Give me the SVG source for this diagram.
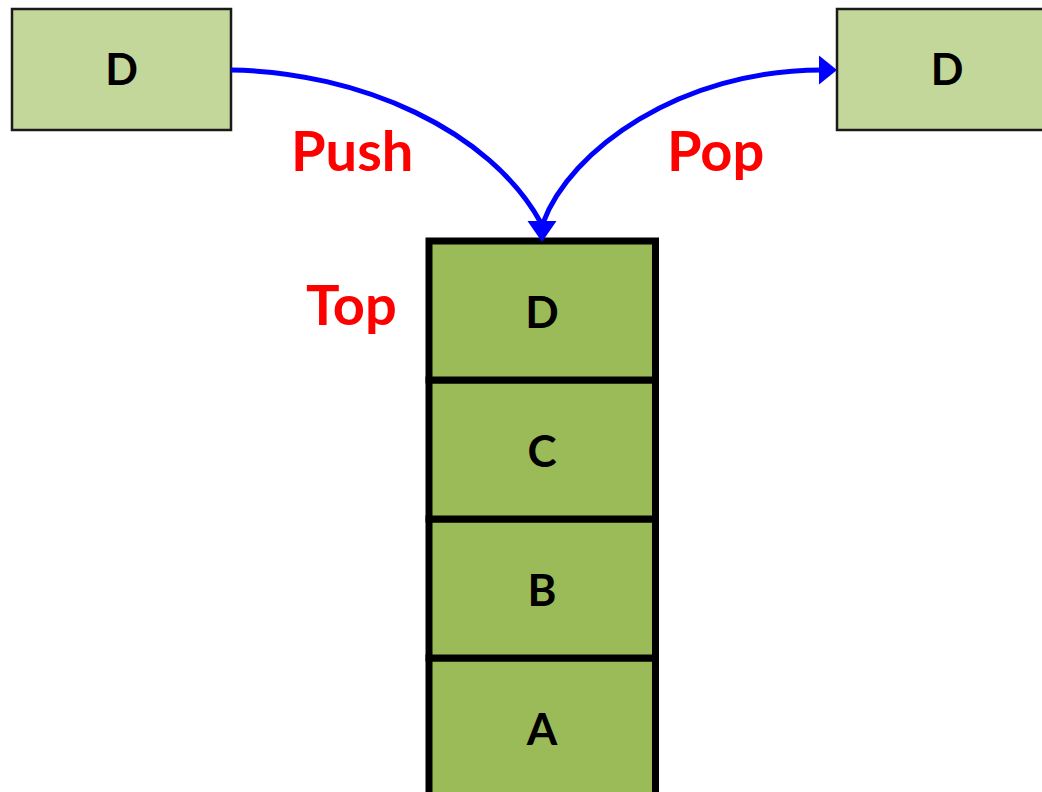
<svg xmlns="http://www.w3.org/2000/svg" width="1042" height="792" viewBox="0 0 1042 792">
  <style>
    .box { fill: #C4D79B; stroke: #1a1a1a; stroke-width: 2.5; }
    .cell { fill: #9BBB59; stroke: #000; stroke-width: 7; }
    .lbl { font-family: Lato, "Liberation Sans", sans-serif; font-weight: bold; fill: #000; text-anchor: middle; }
    .red { font-family: Lato, "Liberation Sans", sans-serif; font-weight: bold; fill: #FF0000; font-size: 56px; }
    .wire { fill: none; stroke: #0000FF; stroke-width: 5; }
    .head { fill: #0000FF; }
  </style>
  <rect width="1042" height="792" fill="#fff"/>

  <g id="push-item">
    <rect class="box" x="12" y="9" width="219" height="121"/>
    <text class="lbl" x="121.5" y="85" font-size="43">D</text>
  </g>
  <g id="pop-item">
    <rect class="box" x="837" y="9" width="230" height="121"/>
    <text class="lbl" x="947" y="85" font-size="43">D</text>
  </g>

  <g id="stack">
    <g id="cell-a">
      <rect class="cell" x="429" y="658" width="226.5" height="150"/>
      <text class="lbl" x="542" y="745" font-size="44">A</text>
    </g>
    <g id="cell-b">
      <rect class="cell" x="429" y="519" width="226.5" height="139"/>
      <text class="lbl" x="542" y="606" font-size="44">B</text>
    </g>
    <g id="cell-c">
      <rect class="cell" x="429" y="380" width="226.5" height="139"/>
      <text class="lbl" x="542" y="467" font-size="44">C</text>
    </g>
    <g id="cell-d">
      <rect class="cell" x="429" y="241" width="226.5" height="139"/>
      <text class="lbl" x="542" y="328" font-size="44">D</text>
    </g>
  </g>

  <g id="labels">
    <text class="red" x="291" y="171">Push</text>
    <text class="red" x="667" y="171">Pop</text>
    <text class="red" x="306" y="325">Top</text>
  </g>

  <g id="connectors">
    <path class="wire" d="M231,70 C360,72 490,130 541,223"/>
    <polygon class="head" points="542,242 527.5,221 556.5,221"/>
    <path class="wire" d="M543,223 C570,150 680,70 822,70"/>
    <polygon class="head" points="837,70 819,55.5 819,84.5"/>
  </g>
</svg>
